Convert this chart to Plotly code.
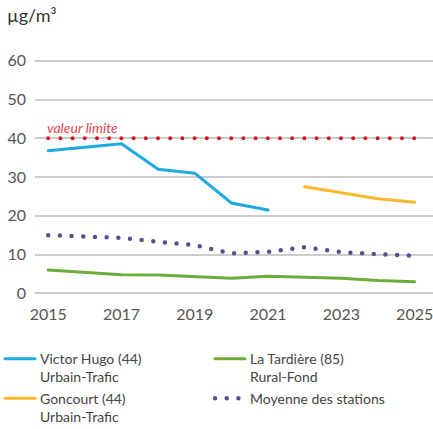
import plotly.graph_objects as go

years = [2015, 2016, 2017, 2018, 2019, 2020, 2021, 2022, 2023, 2024, 2025]
victor_hugo = [36.8, 37.7, 38.6, 32.0, 31.0, 23.3, 21.5, None, None, None, None]
goncourt = [None, None, None, None, None, None, None, 27.5, 26.0, 24.4, 23.5]
la_tardiere = [6.0, 5.4, 4.8, 4.7, 4.3, 3.9, 4.4, 4.1, 3.9, 3.3, 3.0]
moyenne = [15.0, 14.6, 14.3, 13.3, 12.4, 10.3, 10.7, 11.9, 10.6, 10.1, 9.7]
limit_years = [2015, 2025.3]
limit_values = [40, 40]
y_ticks = [0, 10, 20, 30, 40, 50, 60]
x_ticks = [2015, 2017, 2019, 2021, 2023, 2025]

FONT = "Lato"

fig = go.Figure()
fig.add_trace(go.Scatter(x=limit_years, y=limit_values, mode="lines",
                         line=dict(color="#D0121B", width=4, dash="0px,12.2px"),
                         showlegend=False, hoverinfo="skip"))
fig.add_trace(go.Scatter(x=years, y=victor_hugo, mode="lines",
                         name="Victor Hugo (44)<br>Urbain-Trafic", legend="legend",
                         line=dict(color="#1EAAE2", width=3)))
fig.add_trace(go.Scatter(x=years, y=goncourt, mode="lines",
                         name="Goncourt (44)<br>Urbain-Trafic", legend="legend",
                         line=dict(color="#FBB72C", width=3)))
fig.add_trace(go.Scatter(x=years, y=la_tardiere, mode="lines",
                         name="La Tardière (85)<br>Rural-Fond", legend="legend2",
                         line=dict(color="#6CAE3C", width=3)))
fig.add_trace(go.Scatter(x=years, y=moyenne, mode="lines",
                         name="Moyenne des stations", legend="legend2",
                         line=dict(color="#5E4B8B", width=4.5, dash="0px,11.7px")))

fig.add_annotation(x=2015, y=40, xref="x", yref="y", text="<i>valeur limite</i>",
                   showarrow=False, xanchor="left", yanchor="bottom", xshift=-3, yshift=0,
                   font=dict(family=FONT, size=14, color="#E8444F"))
fig.add_annotation(x=-0.075, y=1.153, xref="paper", yref="paper", text="µg/m³",
                   showarrow=False, xanchor="left", yanchor="middle",
                   font=dict(family=FONT, size=18, color="#333333"))

legend_common = dict(orientation="v", xref="container", yref="container",
                     y=0.2, xanchor="left", yanchor="top", valign="top",
                     font=dict(family=FONT, size=14, color="#444444"),
                     bgcolor="rgba(0,0,0,0)", traceorder="normal")

fig.update_layout(
    width=433, height=429,
    margin=dict(l=35, r=0, t=53, b=126, autoexpand=False),
    paper_bgcolor="white", plot_bgcolor="white",
    font=dict(family=FONT, size=16, color="#555555"),
    xaxis=dict(range=[2014.64, 2025.5], tickvals=x_ticks, showgrid=False,
               zeroline=False, showline=False, ticks="", ticklabeloverflow="allow",
               tickfont=dict(size=16, color="#555555")),
    yaxis=dict(range=[-2.5, 62], tickvals=y_ticks, showgrid=True, gridcolor="#CCCCCC",
               gridwidth=1.5, zeroline=False, showline=False, ticks="",
               ticklabelstandoff=8, tickfont=dict(size=16, color="#555555")),
    legend=dict(x=0, **legend_common),
    legend2=dict(x=0.485, **legend_common),
    showlegend=True,
)

post = """
var s = document.createElement('style');
s.innerHTML = 'html, body { margin: 0 !important; padding: 0 !important; overflow: hidden; } path.js-line { stroke-linecap: round !important; }';
document.head.appendChild(s);
"""
fig.write_html("out.html", post_script=post, config={"displayModeBar": False})
